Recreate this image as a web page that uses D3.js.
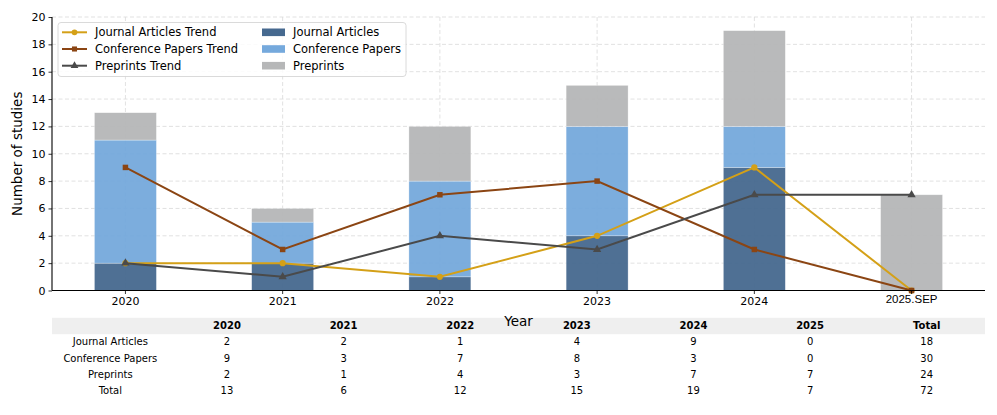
<!DOCTYPE html>
<html>
<head>
<meta charset="utf-8">
<title>Number of studies per year</title>
<script src="https://d3js.org/d3.v7.min.js"></script>
<style>
  body { margin: 0; background: #ffffff; font-family: 'DejaVu Sans', sans-serif; }
  svg text { font-family: 'DejaVu Sans', sans-serif; fill: #000; }
</style>
</head>
<body>
<svg id="chart" width="997" height="415"></svg>
<script>
// data
const years = ["2020", "2021", "2022", "2023", "2024", "2025.SEP"];
const tableYears = ["2020", "2021", "2022", "2023", "2024", "2025"];
const journal = [2, 2, 1, 4, 9, 0];
const conference = [9, 3, 7, 8, 3, 0];
const preprints = [2, 1, 4, 3, 7, 7];
const yTicks = [0, 2, 4, 6, 8, 10, 12, 14, 16, 18, 20];

const colors = {
    journalBar: "#46698f",
    confBar: "#75a9dc",
    prepBar: "#b6b7b8",
    journalLine: "#d4a017",
    confLine: "#8b4513",
    prepLine: "#4a4a4a"
};

const margin = { left: 52, right: 12, top: 17, plotBottom: 290.5 };
const width = 997;

const svg = d3.select("#chart");

const x = d3.scaleBand()
    .domain(years)
    .range([margin.left, width - margin.right])
    .paddingInner(0.606)
    .paddingOuter(0.27);
const cx = d => x(d) + x.bandwidth() / 2;

const y = d3.scaleLinear()
    .domain([0, 20])
    .range([margin.plotBottom, margin.top]);

// grid
const grid = svg.append("g").attr("class", "grid");
grid.selectAll(".hgrid")
    .data(yTicks.slice(1))
    .enter().append("line")
    .attr("x1", margin.left).attr("x2", width - margin.right)
    .attr("y1", d => y(d)).attr("y2", d => y(d))
    .attr("stroke", "#d9d9d9").attr("stroke-width", 0.8)
    .attr("stroke-dasharray", "4,2.5");
grid.selectAll(".vgrid")
    .data(years)
    .enter().append("line")
    .attr("x1", d => cx(d)).attr("x2", d => cx(d))
    .attr("y1", margin.top).attr("y2", margin.plotBottom)
    .attr("stroke", "#d9d9d9").attr("stroke-width", 0.8)
    .attr("stroke-dasharray", "4,2.5");

// stacked bars
const rows = years.map((yr, i) => ({ year: yr, journal: journal[i], conference: conference[i], preprints: preprints[i] }));
const stack = d3.stack().keys(["journal", "conference", "preprints"])(rows);
const barColors = [colors.journalBar, colors.confBar, colors.prepBar];

svg.append("g").selectAll("g")
    .data(stack)
    .enter().append("g")
    .attr("fill", (d, i) => barColors[i])
    .selectAll("rect")
    .data(d => d)
    .enter().append("rect")
    .attr("x", d => x(d.data.year))
    .attr("width", x.bandwidth())
    .attr("y", d => y(d[1]))
    .attr("height", d => y(d[0]) - y(d[1]))
    .attr("opacity", 0.95)
    .attr("stroke", "#ffffff")
    .attr("stroke-opacity", 0.5)
    .attr("stroke-width", 0.6);

// trend lines
const series = [
    { name: "Journal Articles Trend", values: journal, color: colors.journalLine, marker: d3.symbolCircle },
    { name: "Conference Papers Trend", values: conference, color: colors.confLine, marker: d3.symbolSquare },
    { name: "Preprints Trend", values: preprints, color: colors.prepLine, marker: d3.symbolTriangle }
];

const line = d3.line()
    .x((d, i) => cx(years[i]))
    .y(d => y(d));

series.forEach(s => {
    svg.append("path")
        .datum(s.values)
        .attr("fill", "none")
        .attr("stroke", s.color)
        .attr("stroke-width", 2)
        .attr("d", line);
    svg.append("g").selectAll("path")
        .data(s.values)
        .enter().append("path")
        .attr("d", d3.symbol().type(s.marker).size(30))
        .attr("transform", (d, i) => `translate(${cx(years[i])},${y(d)})`)
        .attr("fill", s.color);
});

// axes
const yAxis = svg.append("g")
    .attr("transform", `translate(${margin.left},0)`)
    .call(d3.axisLeft(y).tickValues(yTicks).tickSize(3.5).tickPadding(3));
const xAxis = svg.append("g")
    .attr("transform", `translate(0,${margin.plotBottom})`)
    .call(d3.axisBottom(x).tickSize(3.5).tickPadding(3));
[yAxis, xAxis].forEach(a => {
    a.select(".domain").attr("stroke", "#000").attr("stroke-width", 1.1);
    a.selectAll(".tick line").attr("stroke", "#000").attr("stroke-width", 0.8);
    a.selectAll(".tick text").style("font-size", "11px").style("font-family", "'DejaVu Sans', sans-serif");
});
xAxis.select(".domain").attr("d", `M${margin.left},0H${width - margin.right}`);
yAxis.select(".domain").attr("d", `M0,${margin.plotBottom}V${margin.top}`);
xAxis.selectAll(".tick text")
    .filter(d => d === "2025.SEP")
    .style("font-family", "'Liberation Sans', Arial, sans-serif")
    .style("font-size", "11.5px")
    .attr("dy", "0.55em");

// axis labels
svg.append("text")
    .attr("transform", `translate(22,${(margin.top + margin.plotBottom) / 2}) rotate(-90)`)
    .attr("text-anchor", "middle")
    .style("font-size", "13.5px")
    .text("Number of studies");

// legend
const legend = svg.append("g").attr("transform", "translate(58,22.5)");
legend.append("rect")
    .attr("width", 348).attr("height", 54).attr("rx", 3)
    .attr("fill", "#ffffff").attr("fill-opacity", 0.85)
    .attr("stroke", "#d0d0d0").attr("stroke-width", 0.8);

series.forEach((s, i) => {
    const g = legend.append("g").attr("transform", `translate(4,${9.8 + i * 16.7})`);
    g.append("line").attr("x1", 0).attr("x2", 25).attr("stroke", s.color).attr("stroke-width", 2);
    g.append("path").attr("d", d3.symbol().type(s.marker).size(26)).attr("transform", "translate(12.5,0)").attr("fill", s.color);
    g.append("text").attr("x", 33).attr("dy", "0.35em").style("font-size", "11.5px").text(s.name);
});

const barNames = ["Journal Articles", "Conference Papers", "Preprints"];
barNames.forEach((n, i) => {
    const g = legend.append("g").attr("transform", `translate(204,${9.8 + i * 16.7})`);
    g.append("rect").attr("y", -3.8).attr("width", 23).attr("height", 7.6).attr("fill", barColors[i]);
    g.append("text").attr("x", 31).attr("dy", "0.35em").style("font-size", "11.5px").text(n);
});

// table
const tableCols = ["", ...tableYears, "Total"];
const tx = d3.scaleBand().domain(tableCols).range([margin.left, width - margin.right]);
const tableRows = [
    { label: "Journal Articles", values: journal },
    { label: "Conference Papers", values: conference },
    { label: "Preprints", values: preprints },
    { label: "Total", values: years.map((yr, i) => journal[i] + conference[i] + preprints[i]) }
];
const rowY = d3.scaleLinear().domain([0, 1]).range([325.8, 341.9]);

const table = svg.append("g").style("font-size", "10px");
table.append("rect")
    .attr("x", tx(tableCols[0])).attr("width", tx.bandwidth() * tableCols.length)
    .attr("y", rowY(0) - 8).attr("height", 16.4)
    .attr("fill", "#efefef");

table.selectAll(".head")
    .data(tableCols.slice(1))
    .enter().append("text")
    .attr("x", d => tx(d) + tx.bandwidth() / 2)
    .attr("y", rowY(0))
    .attr("dy", "0.35em")
    .attr("text-anchor", "middle")
    .style("font-weight", "bold")
    .text(d => d);

// x label sits over the table header
svg.append("text")
    .attr("x", (margin.left + width - margin.right) / 2)
    .attr("y", 325.5)
    .attr("text-anchor", "middle")
    .style("font-size", "13.5px")
    .text("Year");

tableRows.forEach((r, ri) => {
    const cells = [r.label, ...r.values, d3.sum(r.values)];
    table.selectAll(".r" + ri)
        .data(cells)
        .enter().append("text")
        .attr("x", (d, i) => tx(tableCols[i]) + tx.bandwidth() / 2)
        .attr("y", rowY(ri + 1))
        .attr("dy", "0.35em")
        .attr("text-anchor", "middle")
        .text(d => d);
});
</script>
</body>
</html>
